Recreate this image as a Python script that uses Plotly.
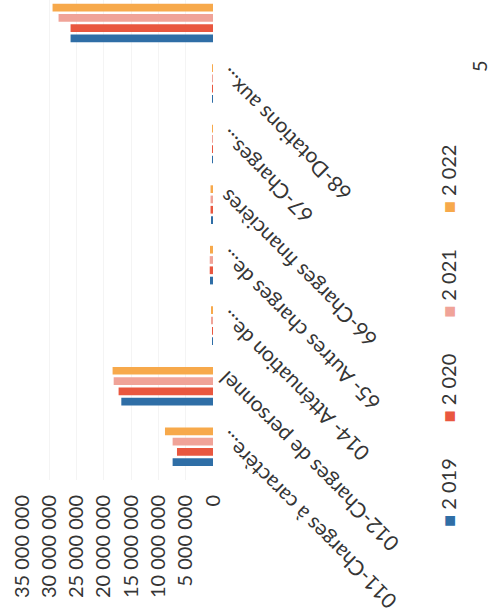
import plotly.graph_objects as go

categories = ["011-Charges à caractère...", "012-Charges de personnel", "014- Atténuation de...",
              "65- Autres charges de...", "66-Charges financières", "67-Charges...",
              "68-Dotations aux...", " "]
years = ["2 019", "2 020", "2 021", "2 022"]
v2019 = [7.4e6, 16.8e6, 0.12e6, 0.55e6, 0.35e6, 0.05e6, 0.04e6, 26.1e6]
v2020 = [6.6e6, 17.3e6, 0.15e6, 0.60e6, 0.45e6, 0.05e6, 0.04e6, 26.1e6]
v2021 = [7.4e6, 18.2e6, 0.20e6, 0.60e6, 0.45e6, 0.05e6, 0.04e6, 28.3e6]
v2022 = [8.8e6, 18.4e6, 0.25e6, 0.55e6, 0.45e6, 0.05e6, 0.04e6, 29.4e6]
colors = ["#2f6ea6", "#e9573f", "#f0a398", "#f7a94b"]
tick_vals = [0, 5e6, 10e6, 15e6, 20e6, 25e6, 30e6, 35e6]

W, H = 491, 616
ML, MR, MT, MB = 22, 278, 0, 136

fig = go.Figure()
for name, vals, col in zip(years, [v2019, v2020, v2021, v2022], colors):
    fig.add_trace(go.Bar(y=categories, x=vals, name=name, orientation="h",
                         marker=dict(color=col, line=dict(width=0))))

font_fam = "Lato, 'Open Sans', sans-serif"
txt_col = "#353535"
fig.update_layout(
    width=W, height=H,
    margin=dict(l=ML, r=MR, t=MT, b=MB, autoexpand=False),
    paper_bgcolor="white", plot_bgcolor="white",
    barmode="group", bargap=0.32, bargroupgap=0.25,
    separators=", ",
    showlegend=False,
    font=dict(family=font_fam, color=txt_col),
    xaxis=dict(range=[35e6, 0], tickvals=tick_vals, tickformat=",d", tickangle=-90,
               automargin=False,
               showgrid=True, gridcolor="#f4f4f4", zeroline=False, showline=False,
               ticks="outside", ticklen=6, tickcolor="rgba(0,0,0,0)",
               tickfont=dict(size=20, color=txt_col)),
    yaxis=dict(range=[-0.55, 7.38], side="right", showticklabels=False, showgrid=False,
               automargin=False, showline=False, ticks=""),
)

# category labels (rotated, ending next to the axis)
for cat in categories:
    if not cat.strip():
        continue
    fig.add_annotation(text=cat, xref="paper", yref="y", x=1, y=cat,
                       xanchor="left", yanchor="top", xshift=-2, yshift=22,
                       showarrow=False, textangle=-135,
                       font=dict(size=21, color=txt_col))

pw, ph = W - ML - MR, H - MT - MB
def px(x, y):
    return (x - ML) / pw, (H - MB - y) / ph

nb = "\u00a0"
legend_txt = (nb * 7).join(
    f"<span style='color:{c}'>■</span>{nb}{y}" for y, c in zip(years, colors))
lx, ly = px(448, 336)
fig.add_annotation(text=legend_txt, xref="paper", yref="paper", x=lx, y=ly,
                   xanchor="center", yanchor="middle",
                   showarrow=False, textangle=-90, font=dict(size=20, color=txt_col))
nx, ny = px(479, 66)
fig.add_annotation(text="5", showarrow=False, textangle=-90, font=dict(size=20, color=txt_col),
                   xref="paper", yref="paper", x=nx, y=ny, xanchor="center", yanchor="middle")

fig.write_html("out.html", config={"displayModeBar": False},
               post_script="document.body.style.margin='0';document.body.style.overflow='hidden';")
